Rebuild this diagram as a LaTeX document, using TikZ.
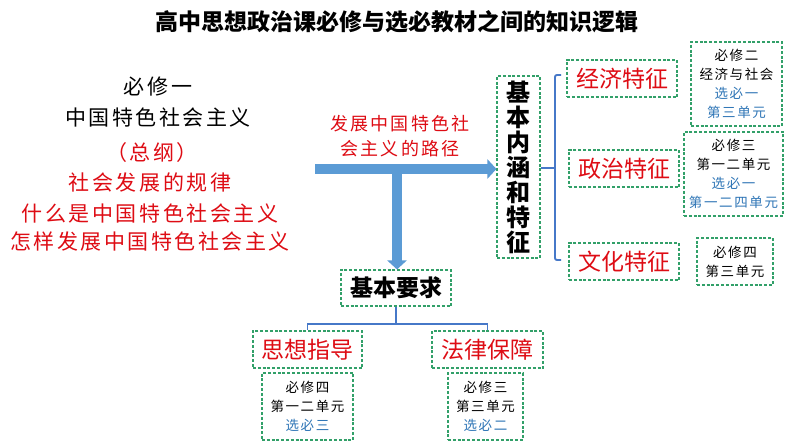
\documentclass[tikz,border=0pt]{standalone}
\usepackage{fontspec}
\setmainfont{Noto Sans CJK SC}
\newfontfamily\spaced[LetterSpace=12]{Noto Sans CJK SC}
\usetikzlibrary{arrows.meta}
\definecolor{tred}{RGB}{222,12,20}
\definecolor{tblue}{RGB}{46,117,182}
\definecolor{arrblue}{RGB}{91,155,213}
\definecolor{lineblue}{RGB}{70,120,200}
\definecolor{dgreen}{RGB}{50,160,105}
\tikzset{
  dbox/.style={draw=dgreen, dash pattern=on 3pt off 1.8pt, line width=1.1pt, inner sep=0pt, align=center},
  feat/.style={dbox, text=tred, font=\fontsize{23}{25}\selectfont, minimum width=110pt, minimum height=37pt},
  small/.style={dbox, font=\spaced\fontsize{13.5}{18.8}\selectfont, text=black},
  bigarrow/.style={arrblue, line width=9.5pt, -{Triangle[length=9pt,width=19pt]}},
  tree/.style={draw=lineblue, line width=1.9pt},
  lefttext/.style={font=\spaced\fontsize{21}{24}\selectfont, inner sep=0pt},
}
\begin{document}
\begin{tikzpicture}[x=1pt,y=-1pt]
\useasboundingbox[fill=white] (0,0) rectangle (794,447);
% title
\node[font=\bfseries\fontsize{23}{26}\selectfont, inner sep=0pt] (title) at (397,22) {高中思想政治课必修与选必教材之间的知识逻辑};
% left block
\node[lefttext] (l1) at (158,87) {必修一};
\node[lefttext] (l2) at (158,117) {中国特色社会主义};
\node[lefttext, text=tred] (l3) at (152,153) {（总纲）};
\node[lefttext, text=tred] (l4) at (150,183) {社会发展的规律};
\node[lefttext, text=tred] (l5) at (150,213) {什么是中国特色社会主义};
\node[lefttext, text=tred] (l6) at (150,242) {怎样发展中国特色社会主义};
% path label
\node[font=\spaced\fontsize{18}{24.5}\selectfont, text=tred, align=center, inner sep=0pt] (path) at (400,136) {发展中国特色社\\会主义的路径};
% core boxes
\node[dbox, font=\bfseries\fontsize{24}{25}\selectfont, minimum width=43pt, minimum height=182pt] (core) at (518.5,167) {基\\本\\内\\涵\\和\\特\\征};
\node[dbox, font=\bfseries\fontsize{23}{25}\selectfont, minimum width=110pt, minimum height=36pt] (req) at (396,288) {基本要求};
% arrows
\coordinate (hstart) at (315,169);
\coordinate (vstart) at (397,166);
\draw[bigarrow] (hstart) -- (hstart -| core.west);
\draw[bigarrow] (vstart) -- (vstart |- req.north);
% features
\node[feat] (econ) at (622,78.5) {经济特征};
\node[feat] (pol) at (624,168.5) {政治特征};
\node[feat] (cul) at (624,261.5) {文化特征};
% bracket
\coordinate (bx) at (555,168);
\coordinate (btop) at (561,75);
\coordinate (bbot) at (561,260);
\draw[tree] (core.east |- bx) -- (bx);
\draw[tree, rounded corners=2pt] (btop) -- (btop -| bx) -- (bbot -| bx) -- (bbot);
% small boxes right
\node[small, minimum width=91pt, minimum height=84pt] (b1) at (736.5,84) {必修二\\经济与社会\\{\color{tblue}选必一}\\{\color{tblue}第三单元}};
\node[small, minimum width=99pt, minimum height=84pt] (b2) at (733.5,174) {必修三\\第一二单元\\{\color{tblue}选必一}\\{\color{tblue}第一二四单元}};
\node[small, minimum width=76pt, minimum height=47pt] (b3) at (735,261.5) {必修四\\第三单元};
% lower tree
\node[feat, minimum width=109pt] (guide) at (307.5,349.5) {思想指导};
\node[feat, minimum width=111pt] (law) at (487.5,349.5) {法律保障};
\draw[tree] (req.south) -- ++(0,17) coordinate (tj) -| (guide.north);
\draw[tree] (tj) -| (law.north);
\node[small, minimum width=91pt, minimum height=67pt] (b4) at (307.5,406.5) {必修四\\第一二单元\\{\color{tblue}选必三}};
\node[small, minimum width=75pt, minimum height=67pt] (b5) at (485.5,406.5) {必修三\\第三单元\\{\color{tblue}选必二}};
\end{tikzpicture}
\end{document}
